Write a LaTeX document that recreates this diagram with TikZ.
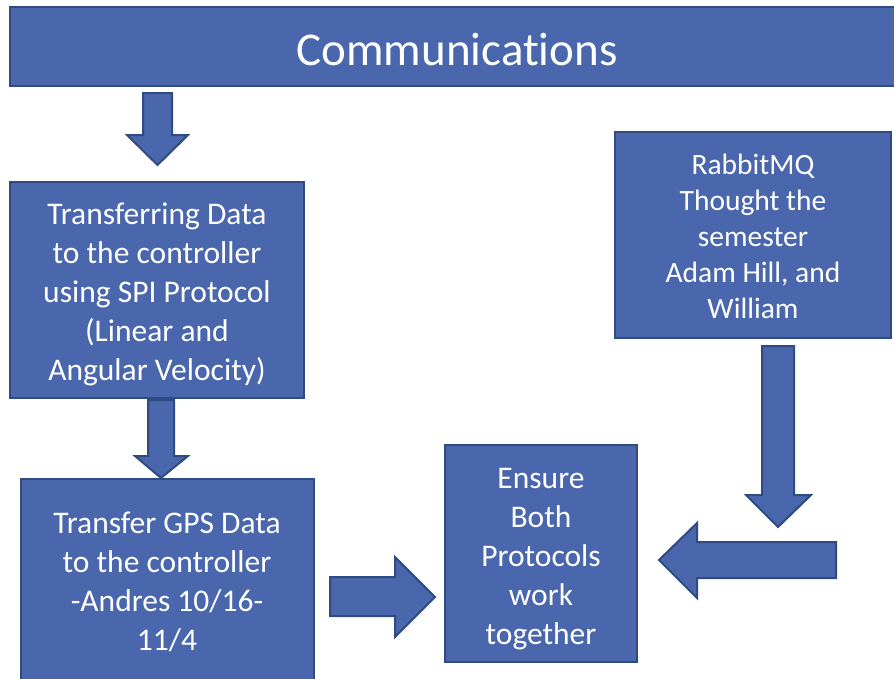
\documentclass[tikz,border=0pt]{standalone}
\usepackage{fontspec}
\setmainfont[Ligatures=NoCommon]{Carlito}
\definecolor{boxfill}{HTML}{4A67AD}
\definecolor{boxline}{HTML}{2F4B82}
\begin{document}
\begin{tikzpicture}[x=1pt,y=-1pt,
  blk/.style={fill=boxfill,draw=boxline,line width=2pt,line join=miter},
  lbl/.style={text=white,align=center,inner sep=0pt}]
\useasboundingbox (0,0) rectangle (894,678);
% boxes
\draw[blk] (10,7) rectangle (905,86);
\node[lbl,font=\fontsize{47}{56}\selectfont] (comm) at (457,50) {Communications};
\draw[blk] (10,182) rectangle (304,398);
\node[lbl,font=\fontsize{31.5}{39}\selectfont] (spi) at (157,294) {Transferring Data\\to the controller\\using SPI Protocol\\(Linear and\\Angular Velocity)};
\draw[blk] (21,479) rectangle (314,690);
\node[lbl,font=\fontsize{31.5}{39}\selectfont] (gps) at (167,582) {Transfer GPS Data\\to the controller\\-Andres 10/16-\\11/4};
\draw[blk] (615,132) rectangle (891,338);
\node[lbl,font=\fontsize{29.5}{36}\selectfont] (rmq) at (753,236) {RabbitMQ\\Thought the\\semester\\Adam Hill, and\\William};
\draw[blk] (445,445) rectangle (637,662);
\node[lbl,font=\fontsize{31.5}{39}\selectfont] (ens) at (541,559) {Ensure\\Both\\Protocols\\work\\together};
% block arrows
\draw[blk] (143,93) -- (172,93) -- (172,135) -- (188,135) -- (157.5,165) -- (127,135) -- (143,135) -- cycle;
\draw[blk] (148,400) -- (174,400) -- (174,456) -- (188,456) -- (161,478) -- (135,456) -- (148,456) -- cycle;
\draw[blk] (330,577) -- (395,577) -- (395,557) -- (435,597) -- (395,637) -- (395,616) -- (330,616) -- cycle;
\draw[blk] (762,346) -- (794,346) -- (794,495) -- (811,495) -- (778,527) -- (746,495) -- (762,495) -- cycle;
\draw[blk] (836,542) -- (697,542) -- (697,523) -- (659,560) -- (697,598) -- (697,578) -- (836,578) -- cycle;
\end{tikzpicture}
\end{document}
